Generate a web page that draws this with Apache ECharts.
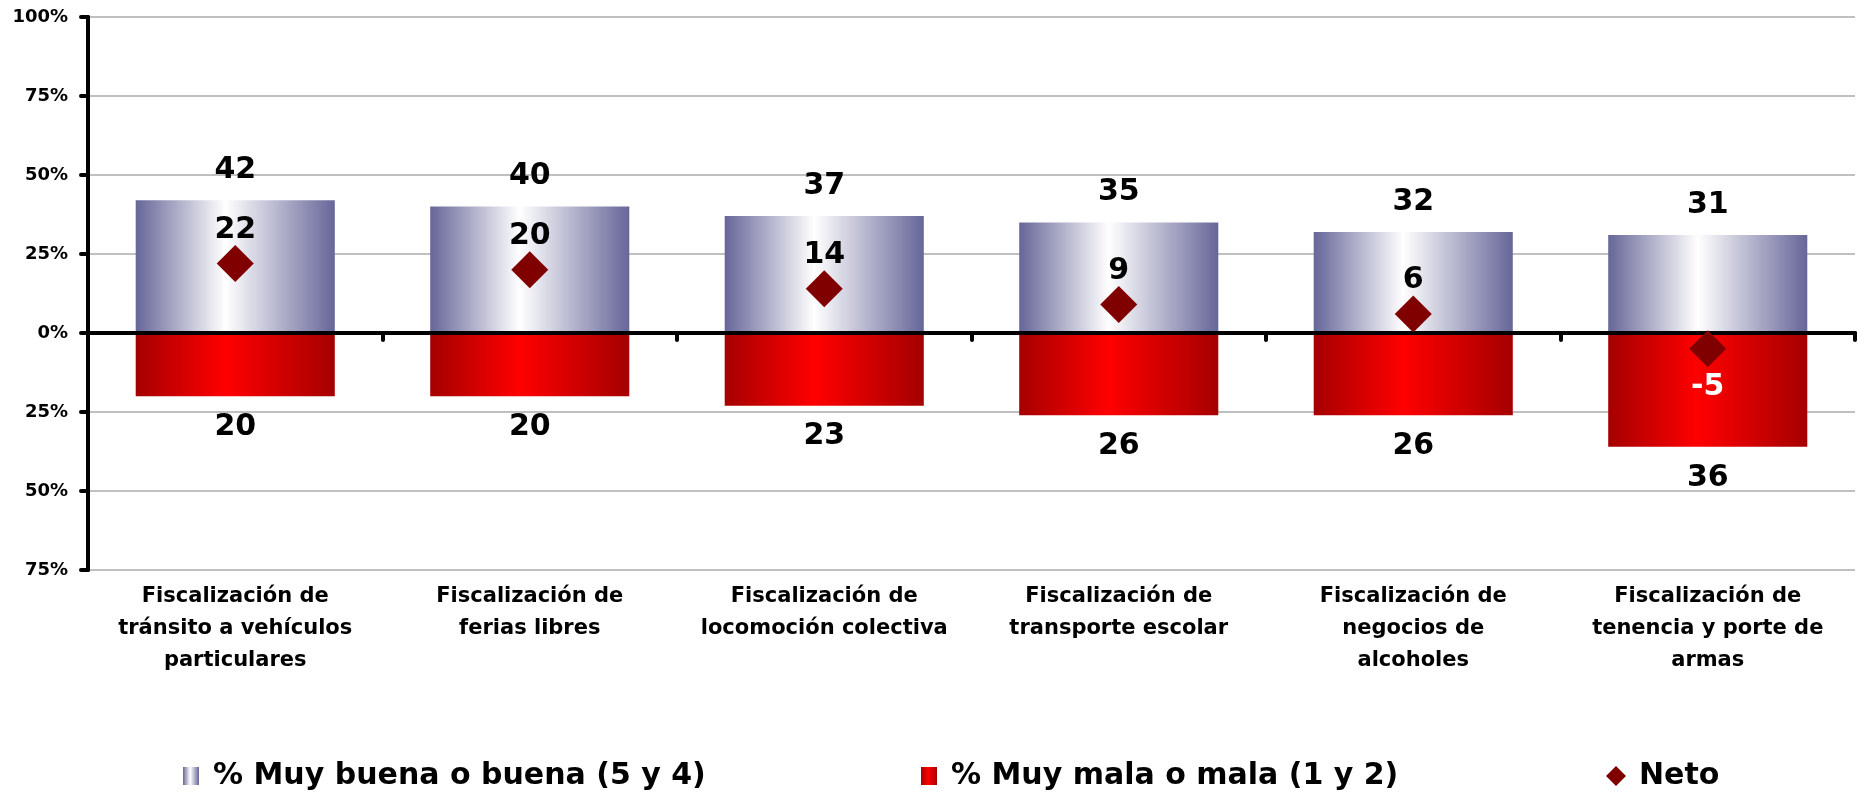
<!DOCTYPE html>
<html>
<head>
<meta charset="utf-8">
<script src="https://cdn.jsdelivr.net/npm/echarts@6/dist/echarts.min.js"></script>
<style>html,body{margin:0;padding:0;background:#fff;}#c{width:1864px;height:795px;}</style>
</head>
<body>
<div id="c"></div>
<script>
const categories = [
  'Fiscalización de\ntránsito a vehículos\nparticulares',
  'Fiscalización de\nferias libres',
  'Fiscalización de\nlocomoción colectiva',
  'Fiscalización de\ntransporte escolar',
  'Fiscalización de\nnegocios de\nalcoholes',
  'Fiscalización de\ntenencia y porte de\narmas'
];
const buena = [42, 40, 37, 35, 32, 31];
const mala = [20, 20, 23, 26, 26, 36];
const neto = [22, 20, 14, 9, 6, -5];
const yTicks = { min: -75, max: 100, interval: 25 };
const names = ['% Muy buena o buena (5 y 4)', '% Muy mala o mala (1 y 2)', 'Neto'];

const font = 'DejaVu Sans';
const blueGrad = new echarts.graphic.LinearGradient(0, 0, 1, 0, [
  { offset: 0, color: '#666699' }, { offset: 0.45, color: '#ffffff' }, { offset: 1, color: '#666699' }
]);
const redGrad = new echarts.graphic.LinearGradient(0, 0, 1, 0, [
  { offset: 0, color: '#a50000' }, { offset: 0.45, color: '#ff0000' }, { offset: 1, color: '#a50000' }
]);
const valLabel = { show: true, fontFamily: font, fontWeight: 'bold', fontSize: 30, lineHeight: 30, color: '#000', opacity: 1 };
const legendText = { fontFamily: font, fontWeight: 'bold', fontSize: 30, color: '#000' };

const chart = echarts.init(document.getElementById('c'), null, { renderer: 'canvas' });
chart.setOption({
  animation: false,
  backgroundColor: '#fff',
  grid: { left: 88, right: 9, top: 17, bottom: 225 },
  legend: [
    { data: [{ name: names[0], icon: 'rect' }], left: 183, top: 761, padding: 0, itemWidth: 16, itemHeight: 18,
      textStyle: Object.assign({ padding: [0, 0, 0, 9] }, legendText) },
    { data: [{ name: names[1], icon: 'rect' }], left: 921, top: 761, padding: 0, itemWidth: 16, itemHeight: 18,
      textStyle: Object.assign({ padding: [0, 0, 0, 9] }, legendText) },
    { data: [{ name: names[2], icon: 'diamond' }], left: 1606, top: 761, padding: 0, itemWidth: 20, itemHeight: 20,
      textStyle: Object.assign({ padding: [0, 0, 0, 8] }, legendText) }
  ],
  xAxis: [
    { type: 'category', data: categories, position: 'bottom',
      axisLine: { show: false, onZero: false }, axisTick: { show: false },
      axisLabel: { interval: 0, margin: 11, fontFamily: font, fontWeight: 'bold', fontSize: 21,
        lineHeight: 32, color: '#000', align: 'center' } },
    { type: 'category', data: categories, position: 'bottom', z: 3,
      axisLine: { show: true, onZero: true, onZeroAxisIndex: 0, lineStyle: { color: '#000', width: 4 } },
      axisTick: { show: true, inside: false, length: 7, lineStyle: { color: '#000', width: 4, cap: 'round' } },
      axisLabel: { show: false }, splitLine: { show: false } }
  ],
  yAxis: {
    type: 'value', min: yTicks.min, max: yTicks.max, interval: yTicks.interval,
    axisLine: { show: true, lineStyle: { color: '#000', width: 4 } },
    axisTick: { show: true, length: 7, lineStyle: { color: '#000', width: 4, cap: 'round' } },
    axisLabel: { margin: 20, fontFamily: font, fontWeight: 'bold', fontSize: 18, color: '#000',
      formatter: v => Math.abs(v) + '%' },
    splitLine: { show: true, lineStyle: { color: '#c0c0c0', width: 2 } }
  },
  series: [
    { name: names[0], type: 'bar', stack: 'total', barWidth: '67.6%', data: buena,
      itemStyle: { color: blueGrad },
      label: Object.assign({ position: 'top', distance: 15 }, valLabel) },
    { name: names[1], type: 'bar', stack: 'total', barWidth: '67.6%', data: mala.map(v => -v),
      itemStyle: { color: redGrad },
      label: Object.assign({ position: 'bottom', distance: 16, formatter: p => Math.abs(p.value) }, valLabel) },
    { name: names[2], type: 'scatter', symbol: 'diamond', symbolSize: 37, z: 5,
      itemStyle: { color: '#800000', opacity: 1 },
      data: neto.map(v => v < 0
        ? { value: v, label: { position: 'bottom', distance: 5, color: '#fff' } }
        : v),
      label: Object.assign({ position: 'top', distance: 0 }, valLabel) }
  ]
});
</script>
</body>
</html>
